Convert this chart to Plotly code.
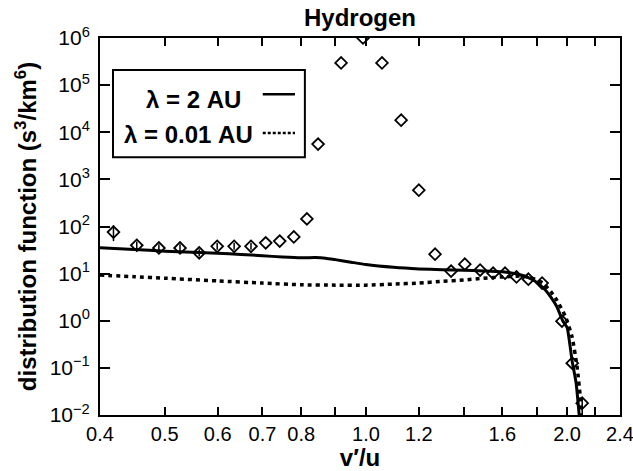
import plotly.graph_objects as go
import math

# ---- data ----
# lambda = 2 AU (solid)
x_solid = [0.40, 0.45, 0.50, 0.55, 0.60, 0.65, 0.70, 0.75, 0.80, 0.84, 0.87, 0.90, 0.95, 1.00,
           1.10, 1.20, 1.30, 1.40, 1.50, 1.60, 1.68, 1.75, 1.80, 1.85, 1.89, 1.93, 1.97, 2.00,
           2.035, 2.063, 2.085]
y_solid = [35.5, 32.5, 30.0, 28.5, 27.0, 25.5, 24.0, 22.5, 21.6, 21.9, 21.3, 19.8, 17.5, 15.6,
           13.6, 12.6, 12.1, 11.8, 11.4, 10.9, 9.9, 8.2, 6.6, 4.7, 3.2, 2.0, 1.0, 0.72,
           0.14, 0.048, 0.01]

# lambda = 0.01 AU (dotted)
x_dot = [0.40, 0.45, 0.50, 0.60, 0.70, 0.80, 0.90, 1.00, 1.10, 1.20, 1.30, 1.40, 1.50, 1.60,
         1.70, 1.75, 1.80, 1.84, 1.89, 1.93, 1.99, 2.035, 2.07, 2.093, 2.10]
y_dot = [9.3, 8.6, 8.0, 7.0, 6.3, 5.8, 5.7, 5.7, 6.0, 6.3, 6.9, 7.3, 8.0, 8.5,
         8.9, 8.5, 7.4, 6.3, 4.2, 2.75, 1.2, 0.45, 0.105, 0.024, 0.01]

# measured points (diamonds)
x_pts = [0.419, 0.454, 0.490, 0.527, 0.563, 0.599, 0.635, 0.673, 0.708, 0.743, 0.780, 0.816,
         0.848, 0.918, 0.990, 1.057, 1.129, 1.200, 1.269, 1.341, 1.406, 1.482, 1.550, 1.615,
         1.680, 1.750, 1.835, 1.965, 2.036, 2.107]
y_pts = [76, 40, 35, 35, 27.6, 38, 38, 38, 45, 49, 60, 145,
         5600, 2.96e5, 1.0e6, 2.96e5, 18000, 590, 25.8, 11.3, 15.9, 11.9, 10.2, 10.2,
         8.5, 7.6, 6.3, 0.98, 0.126, 0.0178]
err_plus = [30, 8, 7, 7, 5.5, 7, 7, 7, 0, 0, 0, 0,
            0, 0, 0, 0, 0, 0, 0, 0, 0, 0, 0, 0,
            0, 0, 0, 0, 0, 0.006]
err_minus = [27, 7, 6, 6, 4.5, 6, 6, 6, 0, 0, 0, 0,
             0, 0, 0, 0, 0, 0, 0, 0, 0, 0, 0, 0,
             0, 0, 0, 0, 0, 0.0085]

x_tickvals = [0.4, 0.5, 0.6, 0.7, 0.8, 0.9, 1.0, 1.2, 1.4, 1.6, 1.8, 2.0, 2.2, 2.4]
x_ticktext = ["0.4", "0.5", "0.6", "0.7", "0.8", "", "1.0", "1.2", "", "1.6", "", "2.0", "", "2.4"]

y_tickvals = [1e-2, 1e-1, 1e0, 1e1, 1e2, 1e3, 1e4, 1e5, 1e6]
y_ticktext = ["10<sup>\u22122</sup>", "10<sup>\u22121</sup>", "10<sup>0</sup>", "10<sup>1</sup>",
              "10<sup>2</sup>", "10<sup>3</sup>", "10<sup>4</sup>", "10<sup>5</sup>", "10<sup>6</sup>"]

legend_labels = ["\u03bb = 2 AU", "\u03bb = 0.01 AU"]

FONT = "Liberation Sans, Arial, sans-serif"

fig = go.Figure()
fig.add_trace(go.Scatter(x=x_solid, y=y_solid, mode="lines",
                         line=dict(color="black", width=3, shape="spline", smoothing=0.5),
                         showlegend=False))
fig.add_trace(go.Scatter(x=x_dot, y=y_dot, mode="lines",
                         line=dict(color="black", width=3.5, dash="4px,4px", shape="spline", smoothing=0.5),
                         showlegend=False))
fig.add_trace(go.Scatter(x=x_pts, y=y_pts, mode="markers",
                         marker=dict(symbol="diamond-open", size=9, color="black",
                                     line=dict(width=1.8, color="black")),
                         error_y=dict(type="data", array=err_plus, arrayminus=err_minus,
                                      symmetric=False, color="black", thickness=1.5, width=0),
                         cliponaxis=True, showlegend=False))

# legend box (drawn in paper coords)
fig.add_shape(type="rect", xref="paper", yref="paper", x0=0.025, x1=0.394, y0=0.684, y1=0.915,
              line=dict(color="black", width=2), fillcolor="white", layer="below")
fig.add_shape(type="line", xref="paper", yref="paper", x0=0.313, x1=0.375, y0=0.851, y1=0.851,
              line=dict(color="black", width=2.5))
fig.add_shape(type="line", xref="paper", yref="paper", x0=0.313, x1=0.375, y0=0.748, y1=0.748,
              line=dict(color="black", width=2.5, dash="3px,2px"))
fig.add_annotation(xref="paper", yref="paper", x=0.275, y=0.838, xanchor="right", yanchor="middle",
                   text="<b>" + legend_labels[0] + "</b>", showarrow=False,
                   font=dict(family=FONT, size=24, color="black"))
fig.add_annotation(xref="paper", yref="paper", x=0.298, y=0.743, xanchor="right", yanchor="middle",
                   text="<b>" + legend_labels[1] + "</b>", showarrow=False,
                   font=dict(family=FONT, size=24, color="black"))

fig.update_layout(
    width=633, height=471,
    margin=dict(l=100, r=13, t=38, b=56, autoexpand=False),
    paper_bgcolor="white", plot_bgcolor="white",
    font=dict(family=FONT, color="black"),
    title=dict(text="<b>Hydrogen</b>", x=0.5, xref="paper", xanchor="center",
               y=0.962, yref="container", yanchor="middle",
               font=dict(family=FONT, size=24, color="black")),
    xaxis=dict(type="log", range=[math.log10(0.4), math.log10(2.4)],
               tickvals=x_tickvals, ticktext=x_ticktext, automargin=False,
               ticklabeloverflow="allow",
               ticks="inside", ticklen=8, tickwidth=1.5, tickcolor="black",
               showline=True, linewidth=2, linecolor="black", mirror="ticks",
               showgrid=False, zeroline=False,
               tickfont=dict(family=FONT, size=20, color="black"),
               ticklabelstandoff=0,
               title=dict(text="<b>v\u2032/u</b>", font=dict(family=FONT, size=24, color="black"),
                          standoff=6)),
    yaxis=dict(type="log", range=[-2, 6], automargin=False,
               ticklabeloverflow="allow",
               tickvals=y_tickvals, ticktext=y_ticktext,
               ticks="inside", ticklen=10, tickwidth=1.5, tickcolor="black",
               showline=True, linewidth=2, linecolor="black", mirror="ticks",
               showgrid=False, zeroline=False,
               tickfont=dict(family=FONT, size=21, color="black"),
               ticklabelstandoff=4,
               title=dict(text="<b>distribution function (s<sup>3</sup>/km<sup>6</sup>)</b>",
                          font=dict(family=FONT, size=24, color="black"), standoff=6)),
)

fig.write_html("out.html", config={"displayModeBar": False},
               post_script="document.body.style.margin='0px';")
